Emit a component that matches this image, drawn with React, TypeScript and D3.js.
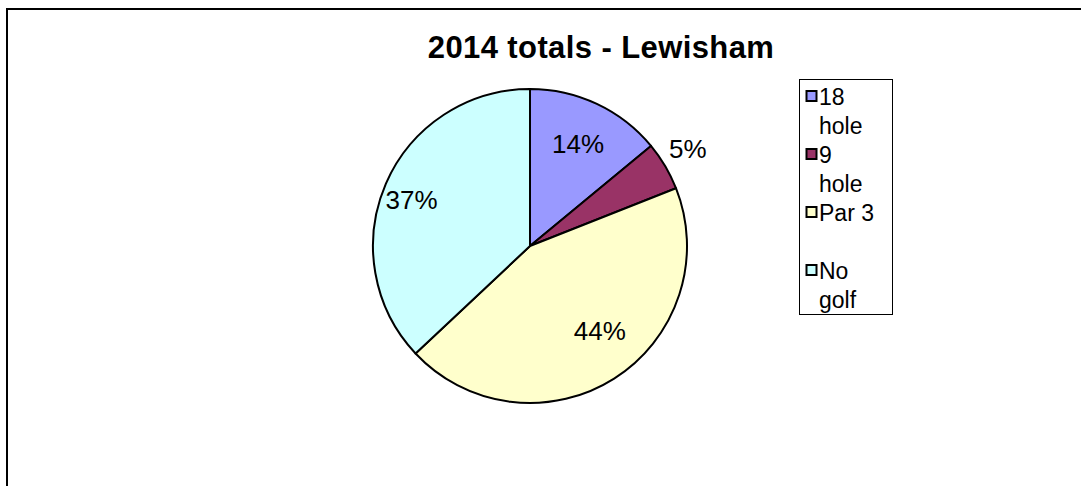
import React from "react";
import * as d3 from "d3";

const categories = ["18 hole", "9 hole", "Par 3", "No golf"];
const values = [14, 5, 44, 37];
const legendLines = [["18", "hole"], ["9", "hole"], ["Par 3", ""], ["No", "golf"]];
const colors = ["#9999FF", "#993366", "#FFFFCC", "#CCFFFF"];
const title = "2014 totals - Lewisham";

export default function App() {
  const W = 1081, H = 486;
  const cx = 530, cy = 246, r = 157;
  const pie = d3.pie<number>().sort(null).value((d) => d)(values);
  const arc = d3.arc<d3.PieArcDatum<number>>().innerRadius(0).outerRadius(r);
  const total = d3.sum(values);
  const labelOffsets = [0.72, 1.18, 0.7, 0.81];
  const labelShift = [0, -1, -7, -2];
  const font = "Arial, 'Liberation Sans', sans-serif";
  const lineH = 29;
  return (
    <svg width={W} height={H} style={{ position: "absolute", left: 0, top: 0, background: "#fff" }}>
      <rect x={7} y={9} width={W + 20} height={H + 20} fill="#fff" stroke="#000" strokeWidth={2} />
      <text x={601} y={58} textAnchor="middle" fontFamily={font} fontWeight="bold" fontSize={31} letterSpacing={0.4}>{title}</text>
      <g transform={`translate(${cx},${cy})`}>
        {pie.map((d, i) => (
          <path key={i} d={arc(d) || ""} fill={colors[i]} stroke="#000" strokeWidth={2} strokeLinejoin="round" />
        ))}
        {pie.map((d, i) => {
          const a = (d.startAngle + d.endAngle) / 2 + (labelShift[i] * Math.PI) / 180;
          const rr = r * labelOffsets[i];
          const x = Math.sin(a) * rr;
          const y = -Math.cos(a) * rr;
          return (
            <text key={"l" + i} x={x} y={y} dy="0.35em" textAnchor="middle" fontFamily={font} fontSize={26} fill="#000">
              {Math.round((d.data / total) * 100) + "%"}
            </text>
          );
        })}
      </g>
      <rect x={799.5} y={79.5} width={93} height={235} fill="#fff" stroke="#000" strokeWidth={1} />
      {categories.map((c, i) => {
        const y0 = 105 + i * lineH * 2;
        return (
          <g key={c}>
            <rect x={806.5} y={y0 - 14} width={10} height={10} fill={colors[i]} stroke="#000" strokeWidth={2} />
            <text x={819} y={y0} fontFamily={font} fontSize={23} fill="#000">{legendLines[i][0]}</text>
            <text x={819} y={y0 + lineH} fontFamily={font} fontSize={23} fill="#000">{legendLines[i][1]}</text>
          </g>
        );
      })}
    </svg>
  );
}
